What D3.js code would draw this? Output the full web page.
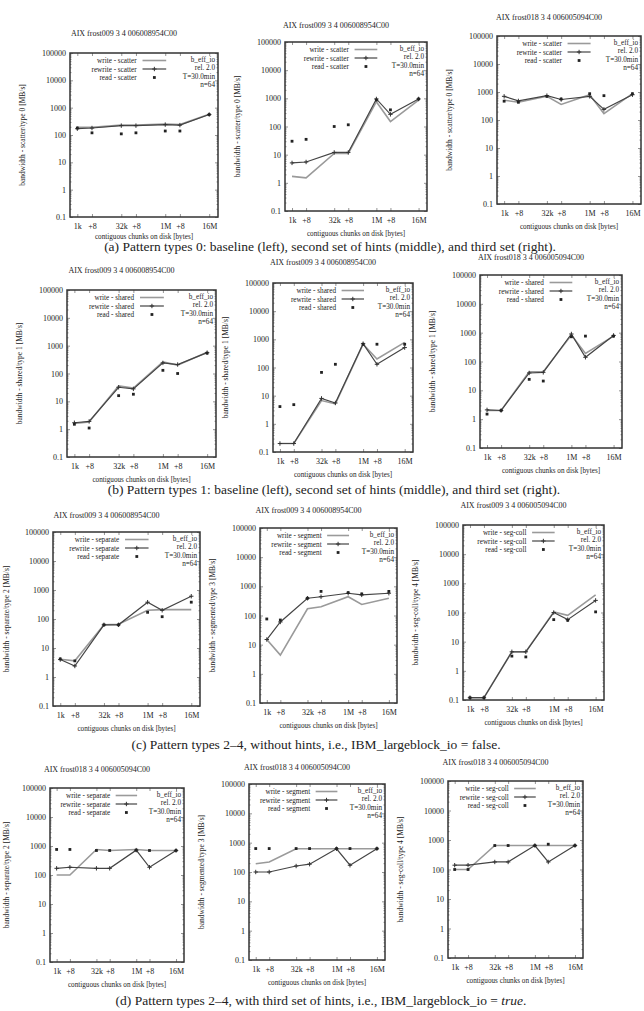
<!DOCTYPE html>
<html>
<head>
<meta charset="utf-8">
<script src="https://cdn.jsdelivr.net/npm/d3@7/dist/d3.min.js"></script>
<style>
  body { margin: 0; background: #fff; }
  svg text { font-family: "Liberation Serif", "DejaVu Serif", serif; fill: #222; }
</style>
</head>
<body>
<div id="chart"></div>
<script>
// x positions: 1k, 1k+8, 32k, 32k+8, 1M, 1M+8, 16M
const xPos = [0, 1, 3, 4, 6, 7, 9];
const xTickLabels = ['1k', '+8', '32k', '+8', '1M', '+8', '16M'];
const yTicks = [0.1, 1, 10, 100, 1000, 10000, 100000];
const yTickLabels = ['0.1', '1', '10', '100', '1000', '10000', '100000'];
const seriesNames = ['write', 'rewrite', 'read'];
const legendInfo = ['b_eff_io', 'rel. 2.0', 'T=30.0min', 'n=64'];

const panelTitles = [
  'AIX frost009 3 4 006008954C00', 'AIX frost009 3 4 006008954C00', 'AIX frost018 3 4 006005094C00',
  'AIX frost009 3 4 006008954C00', 'AIX frost009 3 4 006008954C00', 'AIX frost018 3 4 006005094C00',
  'AIX frost009 3 4 006008954C00', 'AIX frost009 3 4 006008954C00', 'AIX frost009 3 4 006005094C00',
  'AIX frost018 3 4 006005094C00', 'AIX frost018 3 4 006005094C00', 'AIX frost018 3 4 006005094C00'
];
const patternNames = [
  'scatter', 'scatter', 'scatter',
  'shared', 'shared', 'shared',
  'separate', 'segment', 'seg-coll',
  'separate', 'segment', 'seg-coll'
];
const yAxisLabels = [
  'scatter/type 0', 'scatter/type 0', 'scatter/type 0',
  'shared/type 1', 'shared/type 1', 'shared/type 1',
  'separate/type 2', 'segmented/type 3', 'seg-coll/type 4',
  'separate/type 2', 'segmented/type 3', 'seg-coll/type 4'
];

// [write, rewrite, read] in MB/s per panel
const panelA1 = [[190, 190, 230, 230, 250, 240, 580], [170, 180, 220, 220, 240, 230, 560], [180, 120, 110, 120, 140, 140, 560]];
const panelA2 = [[1.7, 1.5, 11, 11, 760, 150, 870], [5.1, 5.5, 12, 12, 950, 270, 950], [30, 35, 100, 115, 870, 390, 950]];
const panelA3 = [[510, 430, 700, 360, 800, 170, 870], [700, 480, 740, 540, 700, 240, 800], [470, 430, 700, 560, 870, 740, 870]];
const panelB1 = [[1.6, 1.8, 36, 30, 260, 200, 580], [1.7, 1.9, 32, 28, 240, 210, 560], [1.5, 1.1, 16, 18, 130, 100, 540]];
const panelB2 = [[0.2, 0.2, 6.7, 5.1, 670, 200, 780], [0.2, 0.2, 8, 5.5, 700, 130, 510], [4.1, 4.8, 67, 130, 670, 670, 670]];
const panelB3 = [[2, 2, 44, 44, 830, 190, 760], [2.1, 2, 40, 42, 900, 140, 800], [1.5, 2, 24, 21, 720, 760, 760]];
const panelC1 = [[4.1, 3.6, 63, 66, 200, 210, 210], [4, 2.4, 63, 63, 380, 200, 610], [4.2, 3.6, 63, 63, 170, 120, 380]];
const panelC2 = [[15, 4.4, 170, 200, 440, 240, 390], [15, 60, 390, 440, 580, 510, 580], [76, 70, 390, 670, 610, 550, 670]];
const panelC3 = [[0.12, 0.12, 4.5, 4.5, 105, 80, 400], [0.12, 0.12, 4.5, 4.5, 100, 57, 260], [0.12, 0.12, 3.2, 3, 57, 54, 105]];
const panelD1 = [[100, 100, 760, 700, 760, 700, 700], [170, 185, 170, 170, 720, 185, 700], [760, 760, 700, 700, 720, 700, 700]];
const panelD2 = [[190, 220, 620, 620, 620, 620, 620], [100, 100, 160, 185, 620, 170, 620], [630, 630, 630, 630, 630, 630, 630]];
const panelD3 = [[100, 100, 650, 650, 650, 650, 650], [140, 140, 180, 180, 650, 180, 650], [100, 100, 650, 650, 650, 720, 650]];
const panelData = [panelA1, panelA2, panelA3, panelB1, panelB2, panelB3, panelC1, panelC2, panelC3, panelD1, panelD2, panelD3];

const captions = [
  '(a) Pattern types 0: baseline (left), second set of hints (middle), and third set (right).',
  '(b) Pattern types 1: baseline (left), second set of hints (middle), and third set (right).',
  '(c) Pattern types 2\u20134, without hints, i.e., IBM_largeblock_io = false.',
  '(d) Pattern types 2\u20134, with third set of hints, i.e., IBM_largeblock_io = '
];

// frame boxes of each panel (layout only)
const layout = [
  { x0: 70, x1: 218, y0: 53, y1: 217, ty: 36 },
  { x0: 285, x1: 427, y0: 42, y1: 211, ty: 28 },
  { x0: 497, x1: 641, y0: 36, y1: 204, ty: 20 },
  { x0: 67, x1: 216, y0: 290, y1: 457, ty: 273 },
  { x0: 273, x1: 413, y0: 283, y1: 452, ty: 265 },
  { x0: 480, x1: 622, y0: 275, y1: 448, ty: 260 },
  { x0: 53, x1: 200, y0: 532, y1: 706, ty: 518 },
  { x0: 260, x1: 397, y0: 528, y1: 703, ty: 513 },
  { x0: 463, x1: 604, y0: 525, y1: 700, ty: 508 },
  { x0: 50, x1: 184, y0: 788, y1: 962, ty: 772 },
  { x0: 249, x1: 385, y0: 784, y1: 960, ty: 770 },
  { x0: 448, x1: 583, y0: 781, y1: 958, ty: 765 }
];
const captionY = [251, 494, 749, 1005];
const captionX = [330, 334, 316, 321];

const W = 644, H = 1011;
const svg = d3.select('#chart').append('svg').attr('width', W).attr('height', H);
svg.append('rect').attr('width', W).attr('height', H).attr('fill', '#fff');

const minorTicks = [];
yTicks.slice(0, -1).forEach(t => { for (let k = 2; k < 10; k++) minorTicks.push(t * k); });

const styles = [
  { stroke: '#9a9a9a', width: 1.6 },
  { stroke: '#444', width: 1.2 },
  { stroke: 'none', width: 0 }
];

function drawMarker(g, kind, cx, cy) {
  if (kind === 1) {
    g.append('path').attr('d', `M${cx - 2.2},${cy}H${cx + 2.2}M${cx},${cy - 2.2}V${cy + 2.2}`)
      .attr('stroke', '#333').attr('stroke-width', 1);
  } else if (kind === 2) {
    g.append('rect').attr('x', cx - 1.4).attr('y', cy - 1.4).attr('width', 2.8).attr('height', 2.8)
      .attr('fill', '#222');
  }
}

layout.forEach((b, i) => {
  const row = Math.floor(i / 3);
  const g = svg.append('g');
  const x = d3.scaleLinear().domain([-0.5, 9.6]).range([b.x0, b.x1]);
  const y = d3.scaleLog().domain([0.1, 100000]).range([b.y1, b.y0]);

  g.append('text').attr('x', (b.x0 + b.x1) / 2 - 20).attr('y', b.ty)
    .attr('text-anchor', 'middle').attr('font-size', 8).text(panelTitles[i]);

  // axes with inward ticks, mirrored on all sides
  g.append('g').attr('transform', `translate(${b.x0},0)`)
    .call(d3.axisLeft(y).tickValues(yTicks).tickFormat((d, j) => yTickLabels[j]).tickSizeInner(-3).tickSizeOuter(0).tickPadding(4));
  g.append('g').attr('transform', `translate(${b.x0},0)`)
    .call(d3.axisLeft(y).tickValues(minorTicks).tickFormat('').tickSizeInner(-1.5).tickSizeOuter(0));
  g.append('g').attr('transform', `translate(${b.x1},0)`)
    .call(d3.axisRight(y).tickValues(yTicks).tickFormat('').tickSizeInner(-3).tickSizeOuter(0));
  g.append('g').attr('transform', `translate(${b.x1},0)`)
    .call(d3.axisRight(y).tickValues(minorTicks).tickFormat('').tickSizeInner(-1.5).tickSizeOuter(0));
  g.append('g').attr('transform', `translate(0,${b.y1})`)
    .call(d3.axisBottom(x).tickValues(xPos).tickFormat((d, j) => xTickLabels[j]).tickSizeInner(-3).tickSizeOuter(0).tickPadding(6));
  g.append('g').attr('transform', `translate(0,${b.y0})`)
    .call(d3.axisTop(x).tickValues(xPos).tickFormat('').tickSizeInner(-3).tickSizeOuter(0));
  g.selectAll('.domain').remove();
  g.selectAll('.tick line').attr('stroke', '#666').attr('stroke-width', 0.7);
  g.selectAll('.tick text').attr('font-size', 8).attr('font-family', '"Liberation Serif", serif').attr('fill', '#222');

  g.append('rect').attr('x', b.x0).attr('y', b.y0).attr('width', b.x1 - b.x0).attr('height', b.y1 - b.y0)
    .attr('fill', 'none').attr('stroke', '#333').attr('stroke-width', 1.5);

  g.append('text').attr('x', (b.x0 + b.x1) / 2).attr('y', Math.min(b.y1 + 25, captionY[row] - 12))
    .attr('text-anchor', 'middle').attr('font-size', 7.2).text('contiguous chunks on disk [bytes]');

  g.append('text')
    .attr('transform', `translate(${Math.max(b.x0 - 45, 9)},${(b.y0 + b.y1) / 2}) rotate(-90)`)
    .attr('text-anchor', 'middle').attr('font-size', 7.5)
    .text(`bandwidth - ${yAxisLabels[i]} [MB/s]`);

  // series
  const line = d3.line().x((d, j) => x(xPos[j])).y(d => y(d));
  panelData[i].forEach((vals, s) => {
    if (s < 2) {
      g.append('path').datum(vals).attr('d', line).attr('fill', 'none')
        .attr('stroke', styles[s].stroke).attr('stroke-width', styles[s].width);
    }
    vals.forEach((v, j) => drawMarker(g, s, x(xPos[j]), y(v)));
  });

  // legend
  const w = b.x1 - b.x0;
  const lx = b.x0 + w * 0.45, sx0 = b.x0 + w * 0.49, sx1 = b.x0 + w * 0.65;
  seriesNames.forEach((n, s) => {
    const ly = b.y0 + 7.5 + s * 8.5;
    g.append('text').attr('x', lx).attr('y', ly + 2.5).attr('text-anchor', 'end').attr('font-size', 7.2)
      .text(`${n} - ${patternNames[i]}`);
    if (s < 2) {
      g.append('line').attr('x1', sx0).attr('x2', sx1).attr('y1', ly).attr('y2', ly)
        .attr('stroke', styles[s].stroke).attr('stroke-width', styles[s].width);
    }
    drawMarker(g, s, (sx0 + sx1) / 2, ly);
  });
  legendInfo.forEach((t, k) => {
    g.append('text').attr('x', b.x1 - 3).attr('y', b.y0 + 9 + k * 8.3).attr('text-anchor', 'end')
      .attr('font-size', 7.2).text(t);
  });
});

captions.forEach((c, k) => {
  const t = svg.append('text').attr('x', captionX[k]).attr('y', captionY[k]).attr('text-anchor', 'middle')
    .attr('font-size', 13.5).text(c);
  if (k === 3) {
    t.append('tspan').attr('font-style', 'italic').text('true');
    t.append('tspan').text('.');
  }
});
</script>
</body>
</html>
